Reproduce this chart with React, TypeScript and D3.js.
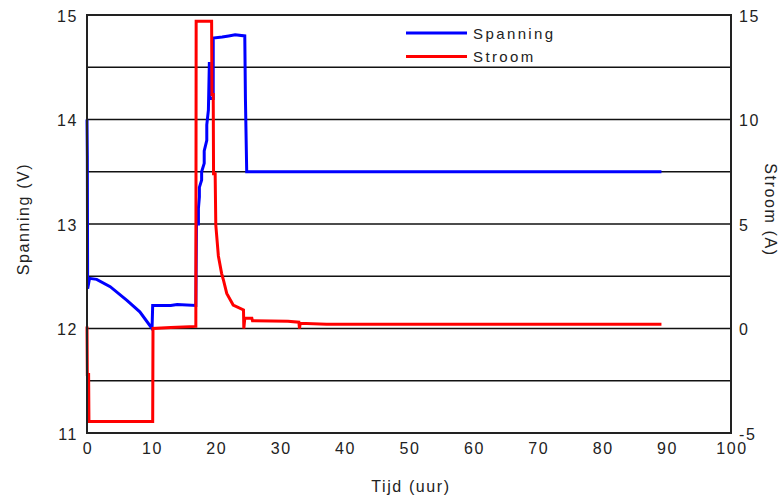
import React, {useRef, useEffect} from 'react';
import * as d3 from 'd3';

// spanning (V) over tijd (uur)
const spanTijd = [0, 0.05, 0.1, 0.4, 1.5, 3.6, 6.2, 8.2, 10.1, 10.2, 13, 14, 16.9, 17.0, 17.3, 17.3, 17.45, 17.45, 17.8, 17.8, 18.2, 18.2, 18.6, 18.6, 18.85, 19.0, 19.05, 19.6, 19.6, 21, 22, 23, 24.5, 24.6, 24.8, 89.2];
const spanning = [14.0, 13.65, 12.38, 12.48, 12.47, 12.40, 12.27, 12.16, 12.0, 12.22, 12.22, 12.23, 12.22, 13.0, 13.0, 13.15, 13.26, 13.35, 13.42, 13.5, 13.58, 13.7, 13.8, 13.95, 14.09, 14.55, 14.2, 14.2, 14.78, 14.79, 14.8, 14.81, 14.8, 14.2, 13.5, 13.5];

// stroom (A) over tijd (uur)
const stroomTijd = [0, 0.05, 0.25, 0.3, 10.2, 10.25, 13, 16.9, 16.95, 19.35, 19.4, 19.6, 19.65, 19.9, 20.0, 20.4, 20.9, 21.2, 21.7, 22.7, 24.3, 24.35, 24.5, 25.6, 25.7, 31.2, 32.9, 33.0, 33.1, 37.2, 89.2];
const stroom = [0.1, -2.2, -2.2, -4.45, -4.45, 0.0, 0.05, 0.1, 14.7, 14.7, 11.2, 11.2, 7.4, 7.4, 4.95, 3.47, 2.64, 2.3, 1.68, 1.12, 0.89, 0.0, 0.49, 0.49, 0.37, 0.35, 0.3, 0.0, 0.25, 0.2, 0.2];

const xTicks = [0, 10, 20, 30, 40, 50, 60, 70, 80, 90, 100];
const spanTicks = [11, 12, 13, 14, 15];
const stroomTicks = [-5, 0, 5, 10, 15];
const gridVals = [11.5, 12, 12.5, 13, 13.5, 14, 14.5];

const legendNames = ['Spanning', 'Stroom'];
const legendColors = ['#0000ff', '#ff0000'];

const App = () => {
  const box = useRef<HTMLDivElement>(null);

  useEffect(() => {
    const width = 779;
    const height = 497;
    const left = 87, right = 731, top = 15, bottom = 433;
    const font = '"Liberation Sans", Arial, sans-serif';

    d3.select(box.current).selectAll('*').remove();
    const svg = d3.select(box.current)
      .append('svg')
      .attr('width', width)
      .attr('height', height)
      .style('display', 'block')
      .style('background', '#fff');

    const x = d3.scaleLinear().domain([0, 100]).range([left, right]);
    const yV = d3.scaleLinear().domain([11, 15]).range([bottom, top]);
    const yA = d3.scaleLinear().domain([-5, 15]).range([bottom, top]);

    // rasterlijnen
    svg.append('g').selectAll('line')
      .data(gridVals)
      .enter()
      .append('line')
      .attr('x1', left)
      .attr('x2', right)
      .attr('y1', d => yV(d))
      .attr('y2', d => yV(d))
      .attr('stroke', '#111')
      .attr('stroke-width', 1.5);

    // lijnen
    const lineV = d3.line<number>()
      .x((d, i) => x(spanTijd[i]))
      .y(d => yV(d));
    const lineA = d3.line<number>()
      .x((d, i) => x(stroomTijd[i]))
      .y(d => yA(d));

    svg.append('path')
      .attr('d', lineV(spanning))
      .attr('fill', 'none')
      .attr('stroke', legendColors[0])
      .attr('stroke-width', 3);

    svg.append('path')
      .attr('d', lineA(stroom))
      .attr('fill', 'none')
      .attr('stroke', legendColors[1])
      .attr('stroke-width', 3);

    // kader
    svg.append('rect')
      .attr('x', left)
      .attr('y', top)
      .attr('width', right - left)
      .attr('height', bottom - top)
      .attr('fill', 'none')
      .attr('stroke', '#222')
      .attr('stroke-width', 2);

    const txt = (g, tx, ty, anchor, text) => {
      return g.append('text')
        .attr('x', tx)
        .attr('y', ty)
        .attr('text-anchor', anchor)
        .attr('dominant-baseline', 'central')
        .attr('font-size', 16)
        .attr('letter-spacing', 1.6)
        .attr('font-family', font)
        .attr('fill', '#222')
        .text(text);
    };

    xTicks.forEach(v => txt(svg, x(v) + 1, 448, 'middle', v));
    spanTicks.forEach(v => txt(svg, 78, yV(v) + 1, 'end', v));
    stroomTicks.forEach(v => txt(svg, 739, yA(v) + 1, 'start', v));

    txt(svg, 411, 486, 'middle', 'Tijd (uur)');
    txt(svg, 0, 0, 'middle', 'Spanning (V)')
      .attr('transform', `translate(23,219) rotate(-90)`);
    txt(svg, 0, 0, 'middle', 'Stroom (A)')
      .attr('transform', `translate(770,210) rotate(90)`);

    // legenda
    legendNames.forEach((n, i) => {
      const ly = 33 + i * 23.5;
      svg.append('line')
        .attr('x1', 406)
        .attr('x2', 467)
        .attr('y1', ly)
        .attr('y2', ly)
        .attr('stroke', legendColors[i])
        .attr('stroke-width', 3);
      txt(svg, 473, ly, 'start', n).attr('font-size', 15).attr('letter-spacing', 2.4);
    });
  }, []);

  return (
    <div ref={box} style={{position: 'absolute', left: 0, top: 0}}></div>
  );
};

export default App;
